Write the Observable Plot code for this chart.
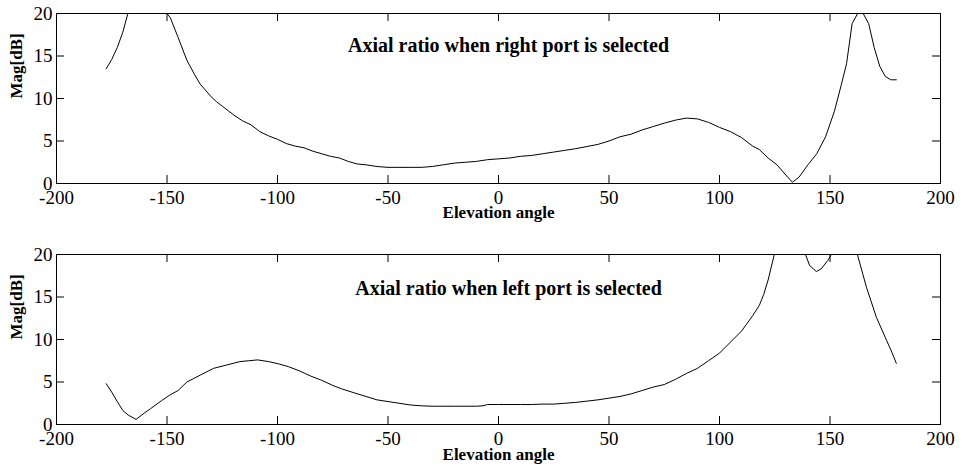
<!DOCTYPE html>
<html>
<head>
<meta charset="utf-8">
<script src="https://cdn.jsdelivr.net/npm/d3@7"></script>
<script src="https://cdn.jsdelivr.net/npm/@observablehq/plot@0.6"></script>
<style>
  body { margin: 0; background: #fff; }
  svg { display: block; }
</style>
</head>
<body>
<div id="chart"></div>
<script>
// Elevation angle (deg) and axial ratio (dB) — right port selected
const rightAngle = [-177.5,-175,-172.5,-170,-167.5,-165,-160,-155,-152.5,-150,-148.5,-145,-141,-137.5,-135,-130,-127.5,-125,-120,-116,-112,-108,-104,-100,-96,-92,-88,-84,-80,-76,-72,-68,-64,-60,-55,-50,-45,-40,-35,-30,-25,-20,-15,-10,-5,0,5,10,15,20,25,30,35,40,45,50,55,60,65,70,75,80,85,90,95,100,105,110,115,118,122,126,130,133,136,140,144,148,152,155,157.5,160,162.5,163.5,165,167.5,170,172.5,175,177.5,180];
const rightAR = [13.5,14.6,16.0,17.8,20.2,22.5,25,23.5,21.5,20.0,19.5,17.2,14.5,12.8,11.7,10.2,9.6,9.1,8.1,7.4,6.9,6.1,5.6,5.2,4.7,4.4,4.2,3.8,3.5,3.2,3.0,2.6,2.3,2.2,2.0,1.9,1.9,1.9,1.9,2.0,2.2,2.4,2.5,2.6,2.8,2.9,3.0,3.2,3.3,3.5,3.7,3.9,4.1,4.35,4.6,5.0,5.5,5.8,6.3,6.7,7.1,7.45,7.7,7.6,7.2,6.6,6.1,5.4,4.4,4.0,3.0,2.2,1.0,0.15,0.75,2.2,3.5,5.5,8.5,11.5,14.1,18.8,20.0,20.4,20.0,18.8,16.0,13.8,12.6,12.2,12.2];

// Elevation angle (deg) and axial ratio (dB) — left port selected
const leftAngle = [-177.5,-175,-172.5,-170,-167.5,-164,-160,-157.5,-152.5,-148.5,-145,-141,-135,-129,-123,-117,-113,-109,-104,-99,-95,-90,-85,-80,-75,-71,-65,-60,-55,-50,-45,-40,-35,-30,-20,-10,-7,-5,0,10,15,20,25,30,35,40,45,50,55,60,65,70,75,80,85,90,95,100,105,110,115,118,120,122,124.8,127.5,131,135,138.9,140.8,143.8,146,149,150.6,153,157,160,162.4,166.5,171,175.6,178,180];
const leftAR = [4.8,3.8,2.7,1.65,1.1,0.6,1.4,1.85,2.8,3.5,4.0,5.0,5.8,6.6,7.0,7.4,7.5,7.6,7.4,7.1,6.8,6.3,5.7,5.2,4.6,4.2,3.7,3.3,2.9,2.7,2.5,2.3,2.2,2.15,2.15,2.15,2.2,2.35,2.35,2.35,2.35,2.4,2.4,2.5,2.6,2.75,2.9,3.1,3.3,3.6,4.0,4.4,4.7,5.3,6.0,6.6,7.5,8.4,9.7,11.0,12.8,14.0,15.3,17.0,20.0,23,25,23,20.0,18.7,18.0,18.3,19.3,20.0,22,23,21.5,20.0,16.15,12.6,9.9,8.5,7.2];

const xTicks = [-200,-150,-100,-50,0,50,100,150,200];
const yTicks = [0,5,10,15,20];
const titleRight = "Axial ratio when right port is selected";
const titleLeft = "Axial ratio when left port is selected";
const xLabel = "Elevation angle";
const yLabel = "Mag[dB]";

const W = 963, ML = 56, MR = 23, TICK = 8;

function panel(angles, values, title, height, marginTop, marginBottom, titleDy, xLabelDy) {
  const data = angles.map((a, i) => ({angle: a, ar: values[i]}));
  const innerH = height - marginTop - marginBottom;
  const innerW = W - ML - MR;
  const fmt = d => `${d}`;
  const inner = (arr) => arr.slice(1, -1);
  return Plot.plot({
    width: W,
    height,
    marginLeft: ML,
    marginRight: MR,
    marginTop,
    marginBottom,
    style: {fontFamily: "'Liberation Serif', 'Times New Roman', serif", fontSize: "19px", color: "black", background: "white"},
    x: {domain: [-200, 200]},
    y: {domain: [0, 20]},
    marks: [
      Plot.axisX(xTicks, {tickSize: 0, tickPadding: 7, tickFormat: fmt, label: null, fontSize: 19}),
      Plot.axisY(yTicks, {tickSize: 0, tickPadding: 4, tickFormat: fmt, label: null, fontSize: 19}),
      Plot.tickX(inner(xTicks), {x: d => d, insetTop: innerH - TICK, stroke: "black"}),
      Plot.tickX(inner(xTicks), {x: d => d, insetBottom: innerH - TICK, stroke: "black"}),
      Plot.tickY(inner(yTicks), {y: d => d, insetRight: innerW - TICK, stroke: "black"}),
      Plot.tickY(inner(yTicks), {y: d => d, insetLeft: innerW - TICK, stroke: "black"}),
      Plot.frame({stroke: "black"}),
      Plot.line(data, {x: "angle", y: "ar", stroke: "black", strokeWidth: 1, clip: true}),
      Plot.text([title], {frameAnchor: "top", dx: 10, dy: titleDy, fontWeight: "bold", fontSize: 20, fill: "black"}),
      Plot.text([xLabel], {frameAnchor: "bottom", dy: xLabelDy, fontWeight: "bold", fontSize: 17, fill: "black"}),
      Plot.text([yLabel], {frameAnchor: "left", dx: -39.5, rotate: -90, fontWeight: "bold", fontSize: 17, fill: "black"})
    ]
  });
}

const root = document.getElementById("chart");
root.append(panel(rightAngle, rightAR, titleRight, 230, 13, 47, 24, 34));
root.append(panel(leftAngle, leftAR, titleLeft, 240, 24, 46, 26, 35));
</script>
</body>
</html>
